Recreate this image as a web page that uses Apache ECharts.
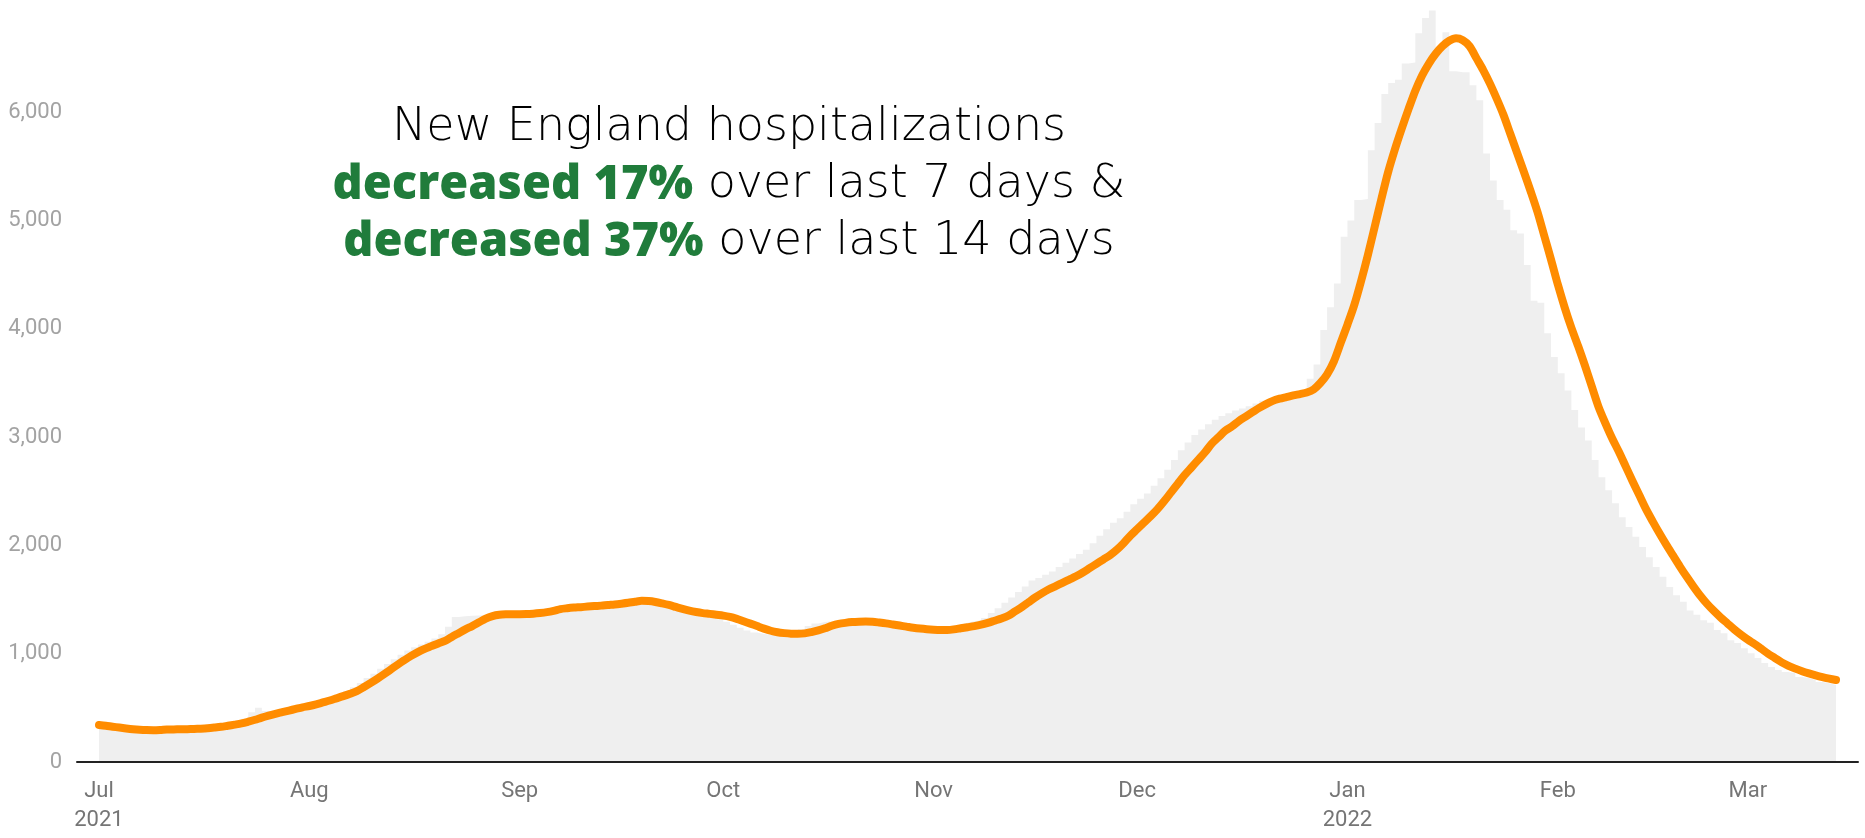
<!DOCTYPE html>
<html>
<head>
<meta charset="utf-8">
<script src="https://cdn.jsdelivr.net/npm/echarts@6/dist/echarts.min.js"></script>
<style>
html, body { margin: 0; padding: 0; background: #fff; }
#chart { width: 1865px; height: 838px; }
</style>
</head>
<body>
<div id="chart"></div>
<script>
// first day of the series (local time), one value per day after that
var startDate = [2021, 6, 1];
var monthNames = ['Jan', 'Feb', 'Mar', 'Apr', 'May', 'Jun', 'Jul', 'Aug', 'Sep', 'Oct', 'Nov', 'Dec'];
var yTickLabels = ['0', '1,000', '2,000', '3,000', '4,000', '5,000', '6,000'];

// daily hospitalizations, Jul 1 2021 .. Mar 14 2022 (grey steps)
var dailyCount = [
  325, 320, 310, 300, 296, 292, 290, 292, 295, 298,
  300, 302, 304, 305, 308, 310, 315, 320, 330, 345,
  362, 400, 460, 500, 470, 460, 470, 488, 500, 512,
  525, 542, 562, 585, 605, 628, 655, 690, 730, 775,
  815, 860, 905, 950, 990, 1030, 1060, 1085, 1110, 1140,
  1180, 1250, 1340, 1345, 1350, 1352, 1355, 1360, 1365, 1368,
  1370, 1372, 1376, 1380, 1390, 1405, 1420, 1432, 1438, 1442,
  1446, 1450, 1455, 1462, 1470, 1478, 1486, 1492, 1496, 1490,
  1470, 1452, 1438, 1420, 1402, 1388, 1378, 1370, 1360, 1350,
  1338, 1318, 1296, 1268, 1240, 1215, 1196, 1182, 1176, 1172,
  1176, 1186, 1200, 1226, 1256, 1280, 1294, 1300, 1300, 1296,
  1290, 1282, 1274, 1265, 1256, 1246, 1236, 1226, 1220, 1216,
  1216, 1218, 1222, 1232, 1246, 1262, 1270, 1285, 1300, 1310,
  1330, 1375, 1420, 1470, 1520, 1570, 1620, 1675, 1700, 1730,
  1760, 1800, 1840, 1880, 1920, 1960, 2020, 2090, 2150, 2210,
  2250, 2310, 2380, 2430, 2480, 2550, 2620, 2700, 2790, 2880,
  2950, 3020, 3070, 3120, 3160, 3195, 3220, 3245, 3265, 3285,
  3310, 3335, 3350, 3360, 3370, 3380, 3395, 3420, 3540, 3670,
  3990, 4200, 4420, 4850, 5000, 5190, 5200, 5650, 5900, 6170,
  6270, 6300, 6450, 6460, 6730, 6870, 6940, 6560, 6740, 6380,
  6370, 6370, 6250, 6110, 5620, 5370, 5190, 5100, 4910, 4880,
  4590, 4260, 4240, 3960, 3740, 3590, 3430, 3250, 3090, 2970,
  2790, 2630, 2510, 2390, 2260, 2170, 2080, 1985, 1890, 1800,
  1710, 1615, 1540, 1480, 1400, 1360, 1310, 1285, 1220, 1190,
  1125, 1100, 1050, 1005, 960, 915, 878, 850, 830, 820,
  785, 775, 757, 738, 728, 710, 692
];

// 7-day average (orange line)
var avgLine = [
  342, 335, 326, 318, 310, 303, 298, 295, 294, 296,
  300, 301, 302, 303, 305, 308, 312, 318, 325, 335,
  345, 356, 372, 390, 410, 428, 445, 460, 475, 490,
  505, 517, 532, 550, 568, 588, 608, 630, 655, 690,
  728, 768, 810, 855, 898, 940, 980, 1015, 1045, 1070,
  1095, 1118, 1155, 1190, 1225, 1255, 1290, 1325, 1348, 1360,
  1364, 1365, 1365, 1366, 1370, 1376, 1384, 1396, 1412, 1420,
  1426, 1430, 1435, 1440, 1444, 1450, 1455, 1462, 1470, 1480,
  1488, 1486, 1478, 1465, 1450, 1432, 1414, 1398, 1385, 1375,
  1368, 1360, 1352, 1340, 1322, 1300, 1278, 1255, 1232, 1212,
  1198, 1190, 1185, 1184, 1188, 1200, 1215, 1235, 1258, 1275,
  1285, 1292, 1296, 1298, 1295, 1288, 1280, 1270, 1260, 1250,
  1240, 1232, 1226, 1222, 1220, 1220, 1225, 1235, 1245, 1255,
  1268, 1285, 1305, 1325, 1350, 1390, 1430, 1475, 1520, 1560,
  1595, 1625, 1655, 1685, 1715, 1750, 1790, 1830, 1870, 1910,
  1960, 2020, 2090, 2150, 2210, 2270, 2335, 2410, 2490, 2570,
  2650, 2720, 2790, 2860, 2940, 3000, 3060, 3100, 3150, 3190,
  3230, 3270, 3305, 3335, 3355, 3370, 3385, 3398, 3412, 3440,
  3500, 3580, 3700, 3870, 4040, 4220, 4440, 4680, 4940, 5200,
  5450, 5660, 5850, 6030, 6200, 6340, 6450, 6540, 6610, 6660,
  6683, 6665, 6610, 6500, 6390, 6265, 6125, 5975, 5800, 5625,
  5450, 5270, 5080, 4860, 4640, 4410, 4200, 4010, 3840, 3660,
  3470, 3280, 3130, 2990, 2865, 2730, 2595, 2465, 2335, 2220,
  2110, 2005, 1905, 1805, 1710, 1620, 1535, 1460, 1395, 1335,
  1280, 1225, 1175, 1130, 1090, 1045, 1000, 960, 920, 888,
  862, 838, 818, 800, 784, 770, 757
];

var DAY = 24 * 3600 * 1000;
var dates = dailyCount.map(function (v, i) {
  return new Date(startDate[0], startDate[1], startDate[2] + i).getTime();
});
var firstDay = dates[0];
var lastDay = dates[dates.length - 1];

var myChart = echarts.init(document.getElementById('chart'));

var option = {
  animation: false,
  backgroundColor: '#ffffff',
  grid: { left: 77, right: 7, top: 4, bottom: 76 },
  graphic: [
    {
      type: 'text',
      x: 729,
      y: 100,
      style: {
        text: 'New England hospitalizations\n{g|decreased 17%} over last 7 days &\n{g|decreased 37%} over last 14 days',
        align: 'center',
        verticalAlign: 'top',
        fill: '#000000',
        fontFamily: 'DejaVu Sans',
        fontWeight: 200,
        fontSize: 46,
        lineHeight: 57,
        rich: {
          g: {
            fill: '#207c3b',
            fontFamily: 'Open Sans',
            fontWeight: 800,
            fontSize: 47,
            lineHeight: 57
          }
        }
      }
    }
  ],
  xAxis: {
    type: 'time',
    z: 10,
    min: firstDay - 3.24 * DAY,
    max: lastDay + 3.24 * DAY,
    minInterval: 28 * DAY,
    maxInterval: 31 * DAY,
    axisLine: { lineStyle: { color: '#222222', width: 2 } },
    axisTick: { show: false },
    splitLine: { show: false },
    axisLabel: {
      color: '#757575',
      fontFamily: 'Roboto',
      fontSize: 22,
      lineHeight: 29,
      margin: 15,
      hideOverlap: false,
      formatter: function (value) {
        var d = new Date(value);
        var m = d.getMonth();
        var label = monthNames[m];
        if (m === 0 || value <= firstDay) {
          label += '\n' + d.getFullYear();
        }
        return label;
      }
    }
  },
  yAxis: {
    type: 'value',
    min: 0,
    max: 7000,
    interval: 1000,
    axisLine: { show: false },
    axisTick: { show: false },
    splitLine: { show: false },
    axisLabel: {
      color: '#a3a3a3',
      fontFamily: 'Roboto',
      fontSize: 22,
      margin: 15,
      formatter: function (value) {
        return yTickLabels[value / 1000] || '';
      }
    }
  },
  series: [
    {
      name: 'Daily',
      type: 'line',
      step: 'end',
      symbol: 'none',
      silent: true,
      lineStyle: { width: 0, opacity: 0 },
      areaStyle: { color: '#efefef', opacity: 1 },
      z: 1,
      data: dailyCount.map(function (v, i) { return [dates[i], v]; })
    },
    {
      name: '7-day average',
      type: 'line',
      smooth: 0.3,
      symbol: 'none',
      lineStyle: { color: '#ff8c00', width: 8, cap: 'round', join: 'round' },
      z: 3,
      data: avgLine.map(function (v, i) { return [dates[i], v]; })
    }
  ]
};

myChart.setOption(option);
</script>
</body>
</html>
